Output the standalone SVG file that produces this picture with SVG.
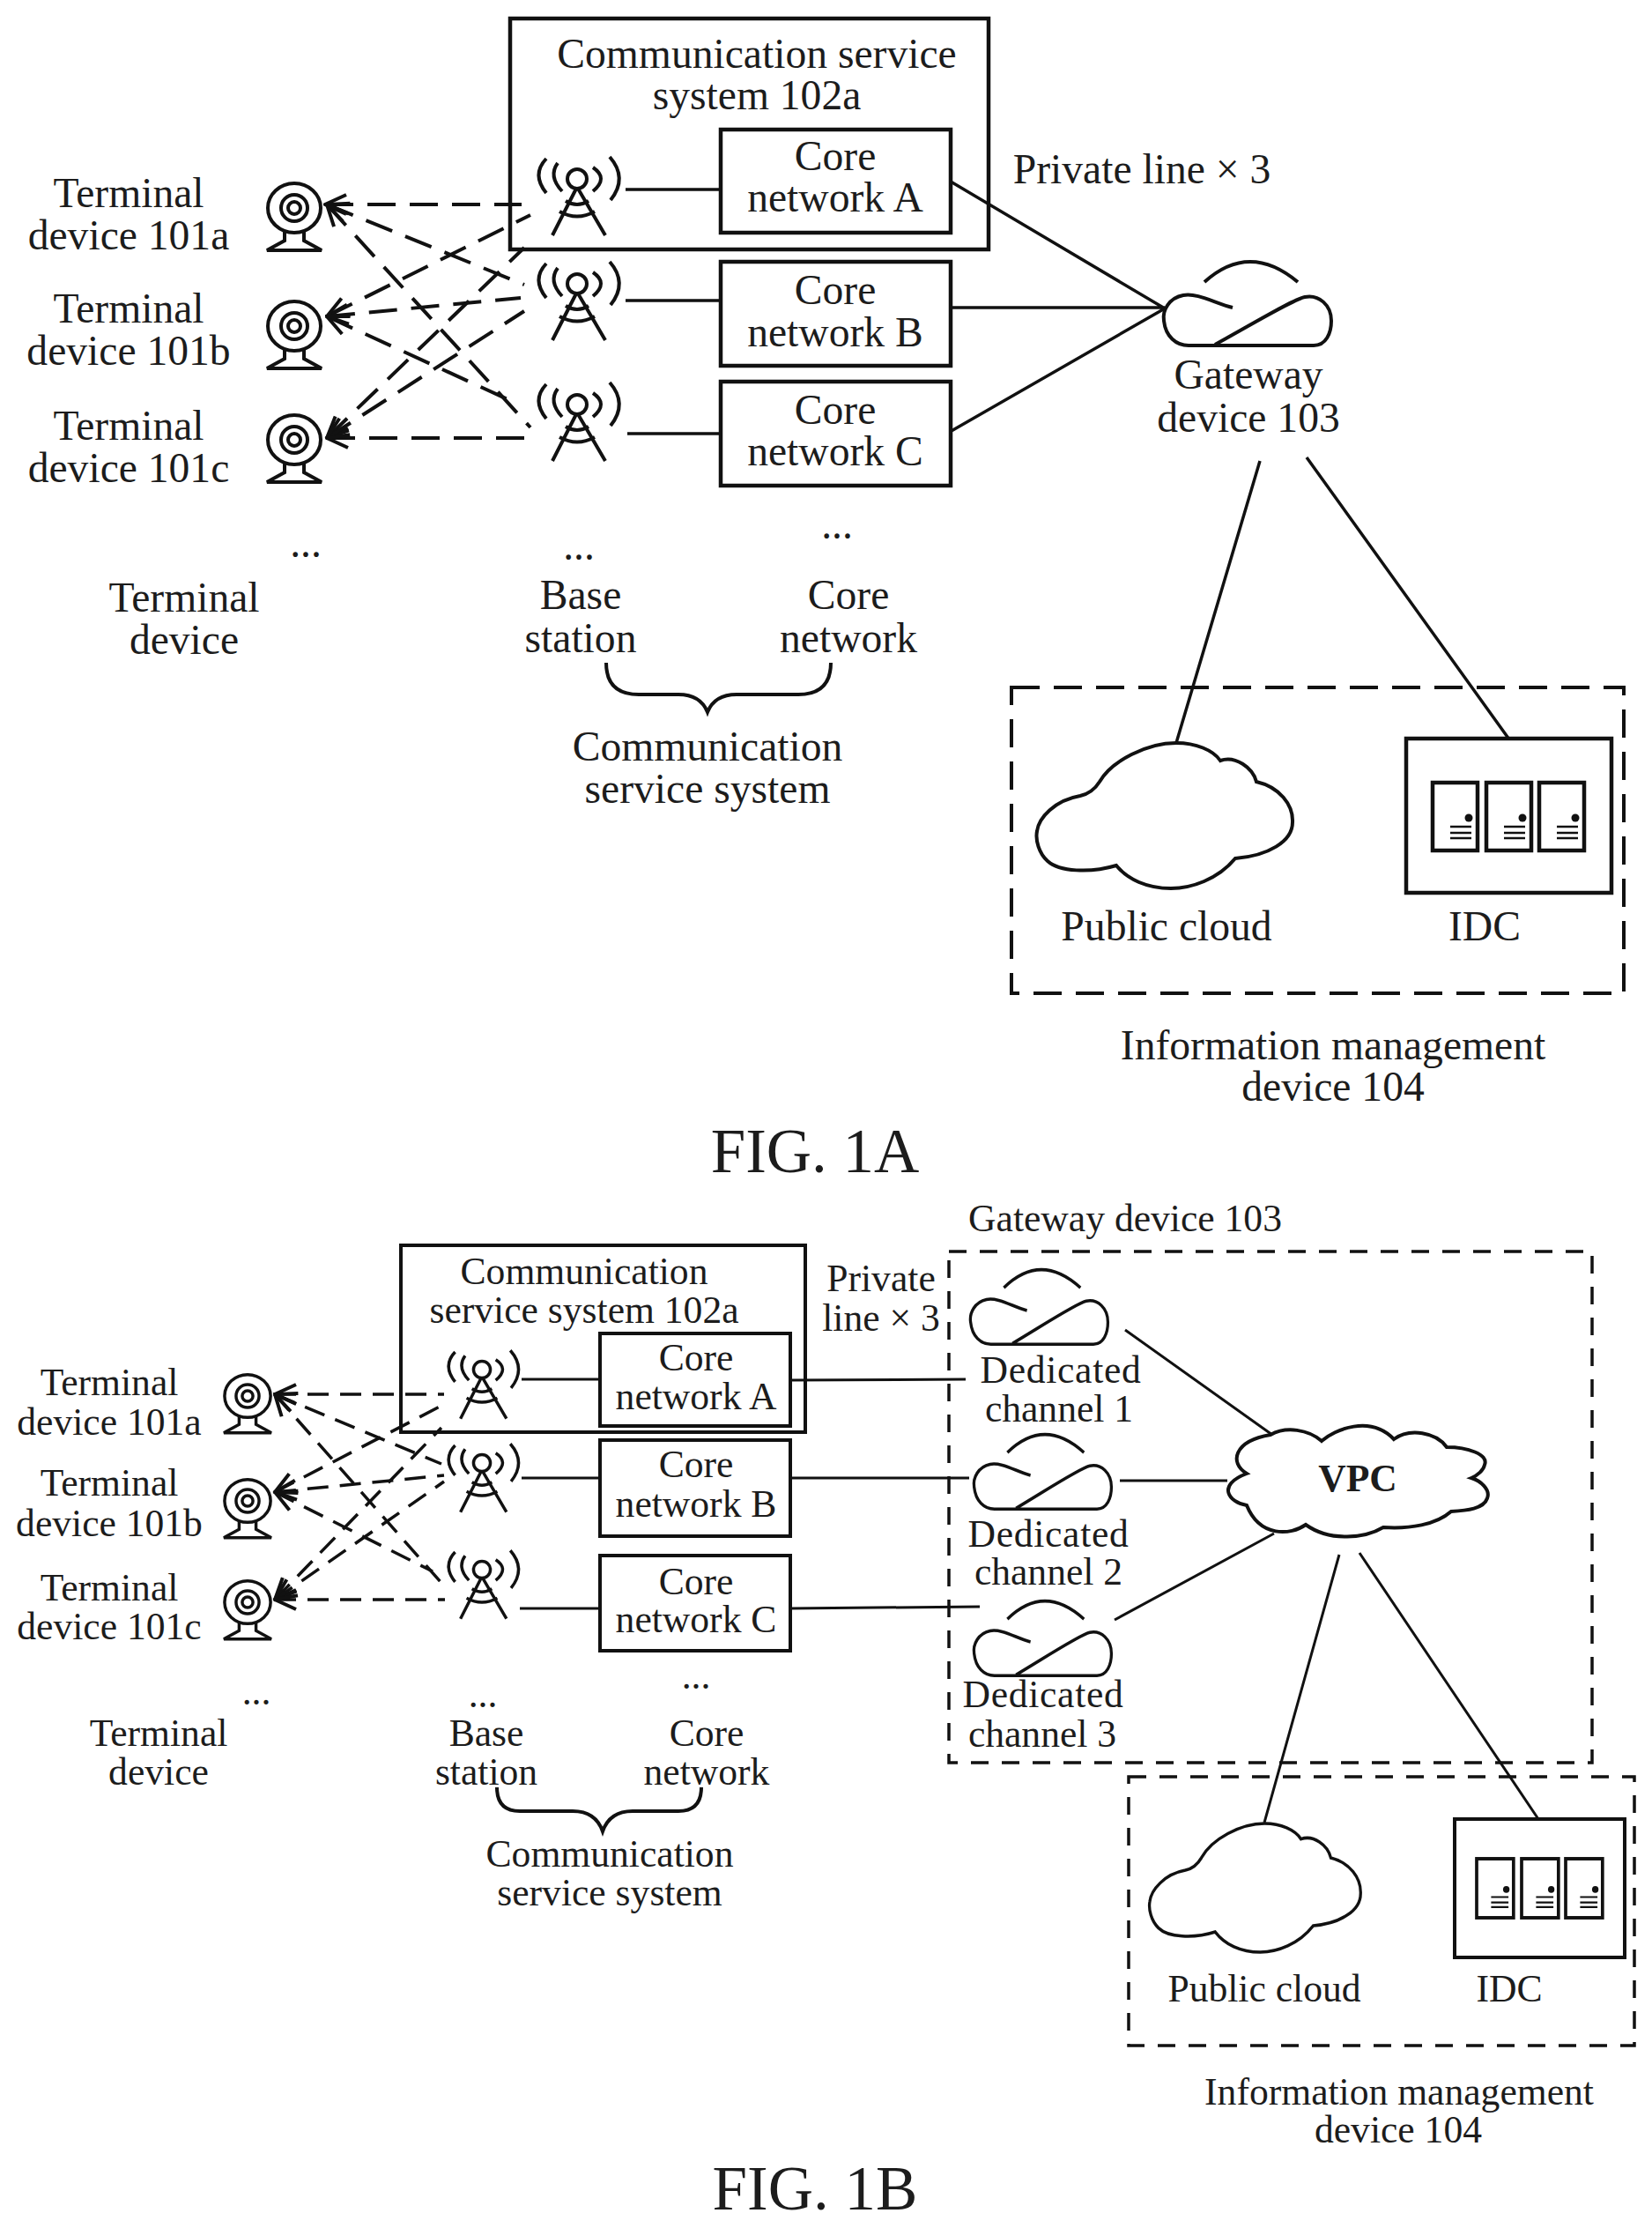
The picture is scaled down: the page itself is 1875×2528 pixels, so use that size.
<svg xmlns="http://www.w3.org/2000/svg" width="1875" height="2528" viewBox="0 0 1875 2528">
<style>
text{font-family:"Liberation Serif","Times New Roman",serif;fill:#1c1c1c;text-anchor:middle}
.a{font-size:47.6px}.b{font-size:43.6px}.f{font-size:71px}
.s{fill:none;stroke:#111;stroke-width:4}
.box{fill:none;stroke:#111;stroke-width:4.5}
.d1{fill:none;stroke:#111;stroke-width:4;stroke-dasharray:32 16}
.d2{fill:none;stroke:#111;stroke-width:3.5;stroke-dasharray:24 13}
.g{fill:none;stroke:#111;stroke-width:3.5;stroke-dasharray:20 15}
.l{fill:none;stroke:#111;stroke-width:3.5}
.l2{fill:none;stroke:#111;stroke-width:3}
.ded{letter-spacing:.7px}
</style>
<defs>
<marker id="ah" markerUnits="userSpaceOnUse" markerWidth="44" markerHeight="36" refX="42" refY="18" orient="auto-start-reverse" viewBox="0 0 44 36"><path d="M18 7L42 18L18 29" fill="none" stroke="#111" stroke-width="4"/></marker>
<g id="tower" class="s">
<circle cx="0" cy="0" r="11"/>
<path d="M-1 11L-28 64M1 11L32 64M-13 25Q0 33 13 25M-20 37Q0 48 20 37"/>
<path d="M-22 -18Q-33 -3 -17 14M-35 -23Q-52 -5 -35 16M18 -13Q36 -1 18 14M37 -25Q58 -1 38 24"/>
</g>
<g id="cam" class="s">
<ellipse cx="0" cy="0" rx="30" ry="28"/>
<circle cx="0" cy="0" r="15"/>
<circle cx="0" cy="0" r="7"/>
<path d="M-11 27L-11 37L-31 48L31 48L11 37L11 27"/>
</g>
<g id="gw" class="s">
<path d="M48 26Q99 -20 154 26"/>
<path d="M80 55C60 50 40 38 24 41C8 44 0 58 2 70C4 88 16 98 30 98L172 98C186 98 192 84 192 70C192 52 178 40 162 43C150 45 100 75 60 97"/>
</g>
<path id="cloud" d="M71 44C85 20 125 0 158 0C180 0 200 8 208 20C225 14 245 28 249 44C275 50 291 70 290 90C290 112 262 128 225 131C205 155 175 165 152 165C125 165 103 155 90 139C60 148 25 146 12 134C2 125 -2 110 0 100C2 85 20 65 49 60C58 58 66 52 71 44Z" fill="none" stroke="#111" stroke-width="4"/>
<g id="srv" class="s">
<rect x="0" y="0" width="51" height="77" stroke-width="4.5"/>
<circle cx="41" cy="40" r="4.5" fill="#111" stroke="none"/>
<path d="M20 50H44M20 57H44M20 63H44" stroke-width="2.5"/>
</g>
</defs>
<rect width="1875" height="2528" fill="#fff"/>

<g id="connectors">
<path class="l" d="M710 215H818M710 341H818M712 492H818"/>
<path class="l" d="M1079 206L1322 350M1078 349H1322M1078 490L1322 350"/>
<path class="l" d="M1430 523L1335 843M1483 519L1713 839"/>
<g marker-start="url(#ah)">
<path class="d1" d="M369 232H592"/>
<path class="d1" d="M371 359L591 338"/>
<path class="d1" d="M371 497H597"/>
<path class="d1" d="M371 359L602 244"/>
<path class="d1" d="M371 497L595 281"/>
<path class="d1" d="M371 232L595 323"/>
<path class="d1" d="M371 497L595 353"/>
<path class="d1" d="M371 232L602 485"/>
<path class="d1" d="M371 359L587 458"/>
</g>
<path class="l2" d="M592 1565H681M592 1677H681M590 1825H681"/>
<path class="l2" d="M897 1566L1096 1565M897 1677H1100M897 1825L1112 1823"/>
<path class="l2" d="M1277 1509L1444 1628M1271 1680H1393M1265 1838L1446 1740"/>
<path class="l2" d="M1520 1764L1435 2068M1543 1762L1746 2064"/>
<g marker-start="url(#ah)">
<path class="d2" d="M312 1582H504"/>
<path class="d2" d="M312 1693L504 1674"/>
<path class="d2" d="M312 1815H505"/>
<path class="d2" d="M312 1693L501 1595"/>
<path class="d2" d="M312 1815L501 1620"/>
<path class="d2" d="M312 1582L501 1661"/>
<path class="d2" d="M312 1815L504 1681"/>
<path class="d2" d="M312 1582L501 1796"/>
<path class="d2" d="M312 1693L491 1783"/>
</g>
</g>

<g id="fig1a">
<g id="a-t101a"><use href="#cam" transform="translate(334 236)"/><text class="a" x="146" y="235">Terminal</text><text class="a" x="146" y="283">device 101a</text></g>
<g id="a-t101b"><use href="#cam" transform="translate(334 370)"/><text class="a" x="146" y="366">Terminal</text><text class="a" x="146" y="414">device 101b</text></g>
<g id="a-t101c"><use href="#cam" transform="translate(334 499)"/><text class="a" x="146" y="499">Terminal</text><text class="a" x="146" y="547">device 101c</text></g>
<g id="a-system102a"><rect class="box" x="579" y="21" width="543" height="262"/><text class="a" x="859" y="77">Communication service</text><text class="a" x="859" y="124">system 102a</text></g>
<g id="a-bs1"><use href="#tower" transform="translate(655 203)"/></g>
<g id="a-bs2"><use href="#tower" transform="translate(655 322)"/></g>
<g id="a-bs3"><use href="#tower" transform="translate(655 459)"/></g>
<g id="a-coreA"><rect class="box" x="818" y="147" width="261" height="117"/><text class="a" x="948" y="193">Core</text><text class="a" x="948" y="240">network A</text></g>
<g id="a-coreB"><rect class="box" x="818" y="297" width="261" height="118"/><text class="a" x="948" y="345">Core</text><text class="a" x="948" y="393">network B</text></g>
<g id="a-coreC"><rect class="box" x="818" y="433" width="261" height="118"/><text class="a" x="948" y="481">Core</text><text class="a" x="948" y="528">network C</text></g>
<g id="a-labels">
<text class="a" x="1296" y="208">Private line × 3</text>
<text class="a" x="347" y="632">...</text><text class="a" x="657" y="635">...</text><text class="a" x="950" y="611">...</text>
<text class="a" x="209" y="694">Terminal</text><text class="a" x="209" y="742">device</text>
<text class="a" x="659" y="691">Base</text><text class="a" x="659" y="740">station</text>
<text class="a" x="963" y="691">Core</text><text class="a" x="963" y="740">network</text>
<path class="s" d="M688 752Q688 788 725 788L770 788Q795 788 803 808Q811 788 836 788L906 788Q943 788 943 752"/>
<text class="a" x="803" y="863">Communication</text><text class="a" x="803" y="911">service system</text>
</g>
<g id="a-gateway"><use href="#gw" transform="translate(1319 294)"/><text class="a" x="1417" y="441">Gateway</text><text class="a" x="1417" y="490">device 103</text></g>
<g id="a-info"><rect class="d1" x="1148" y="780" width="695" height="347"/>
<g id="a-public"><use href="#cloud" transform="translate(1177 843)"/><text class="a" x="1324" y="1067">Public cloud</text></g>
<g id="a-idc"><rect class="box" x="1596" y="838" width="233" height="175"/><use href="#srv" transform="translate(1626 888)"/><use href="#srv" transform="translate(1687 888)"/><use href="#srv" transform="translate(1747 888)"/><text class="a" x="1685" y="1067">IDC</text></g>
<text class="a" x="1513" y="1202">Information management</text><text class="a" x="1513" y="1249">device 104</text></g>
<text class="f" x="925" y="1330">FIG. 1A</text>
</g>

<g id="fig1b">
<g id="b-t101a"><use href="#cam" transform="translate(281 1584) scale(.87)"/><text class="b" x="124" y="1583">Terminal</text><text class="b" x="124" y="1628">device 101a</text></g>
<g id="b-t101b"><use href="#cam" transform="translate(281 1703) scale(.87)"/><text class="b" x="124" y="1697">Terminal</text><text class="b" x="124" y="1743">device 101b</text></g>
<g id="b-t101c"><use href="#cam" transform="translate(281 1818) scale(.87)"/><text class="b" x="124" y="1816">Terminal</text><text class="b" x="124" y="1860">device 101c</text></g>
<g id="b-system102a"><rect class="s" x="455" y="1413" width="459" height="212"/><text class="b" x="663" y="1457">Communication</text><text class="b" x="663" y="1501">service system 102a</text></g>
<g id="b-bs1"><use href="#tower" transform="translate(547 1554) scale(.87)"/></g>
<g id="b-bs2"><use href="#tower" transform="translate(547 1660) scale(.87)"/></g>
<g id="b-bs3"><use href="#tower" transform="translate(547 1781) scale(.87)"/></g>
<g id="b-coreA"><rect class="s" x="681" y="1513" width="216" height="105"/><text class="b" x="790" y="1555">Core</text><text class="b" x="790" y="1599">network A</text></g>
<g id="b-coreB"><rect class="s" x="681" y="1634" width="216" height="109"/><text class="b" x="790" y="1676">Core</text><text class="b" x="790" y="1721">network B</text></g>
<g id="b-coreC"><rect class="s" x="681" y="1765" width="216" height="108"/><text class="b" x="790" y="1809">Core</text><text class="b" x="790" y="1852">network C</text></g>
<g id="b-labels">
<text class="b" x="1000" y="1465">Private</text><text class="b" x="1000" y="1510">line × 3</text>
<text class="b" x="291" y="1934">...</text><text class="b" x="548" y="1937">...</text><text class="b" x="790" y="1916">...</text>
<text class="b" x="180" y="1981">Terminal</text><text class="b" x="180" y="2025">device</text>
<text class="b" x="552" y="1981">Base</text><text class="b" x="552" y="2025">station</text>
<text class="b" x="802" y="1981">Core</text><text class="b" x="802" y="2025">network</text>
<path class="s" d="M564 2028Q564 2055 590 2055L650 2055Q676 2055 684 2078Q692 2055 718 2055L770 2055Q796 2055 796 2028"/>
<text class="b" x="692" y="2118">Communication</text><text class="b" x="692" y="2162">service system</text>
</g>
<g id="b-gateway"><rect class="g" x="1077" y="1420" width="730" height="580"/><text class="b" x="1277" y="1397">Gateway device 103</text></g>
<g id="b-ch1"><use href="#gw" transform="translate(1100 1438) scale(.82 .89)"/><text class="b ded" x="1204" y="1569">Dedicated</text><text class="b" x="1202" y="1613">channel 1</text></g>
<g id="b-ch2"><use href="#gw" transform="translate(1104 1625) scale(.82 .89)"/><text class="b ded" x="1190" y="1755">Dedicated</text><text class="b" x="1190" y="1798">channel 2</text></g>
<g id="b-ch3"><use href="#gw" transform="translate(1104 1814) scale(.82 .89)"/><text class="b ded" x="1184" y="1937">Dedicated</text><text class="b" x="1183" y="1982">channel 3</text></g>
<g id="b-vpc"><path class="s" d="M1442 1628C1460 1618 1485 1622 1500 1635C1515 1622 1555 1605 1582 1633C1600 1620 1630 1625 1642 1642C1665 1642 1690 1650 1685 1662C1684 1668 1677 1674 1670 1677C1680 1680 1692 1690 1688 1700C1684 1712 1665 1714 1647 1715C1630 1730 1600 1735 1570 1733C1550 1745 1510 1750 1482 1730C1465 1742 1430 1745 1415 1708C1395 1705 1380 1685 1415 1672C1395 1660 1400 1635 1442 1628Z"/><text class="b" x="1541" y="1692" font-weight="bold">VPC</text></g>
<g id="b-info"><rect class="g" x="1281" y="2016" width="574" height="305"/>
<g id="b-public"><use href="#cloud" transform="translate(1305 2069) scale(.825 .885)"/><text class="b" x="1435" y="2271">Public cloud</text></g>
<g id="b-idc"><rect class="s" x="1651" y="2064" width="193" height="157"/><use href="#srv" transform="translate(1676 2109) scale(.82 .87)"/><use href="#srv" transform="translate(1727 2109) scale(.82 .87)"/><use href="#srv" transform="translate(1777 2109) scale(.82 .87)"/><text class="b" x="1713" y="2271">IDC</text></g>
<text class="b" x="1588" y="2388">Information management</text><text class="b" x="1587" y="2431">device 104</text></g>
<text class="f" x="925" y="2507">FIG. 1B</text>
</g>
</svg>
